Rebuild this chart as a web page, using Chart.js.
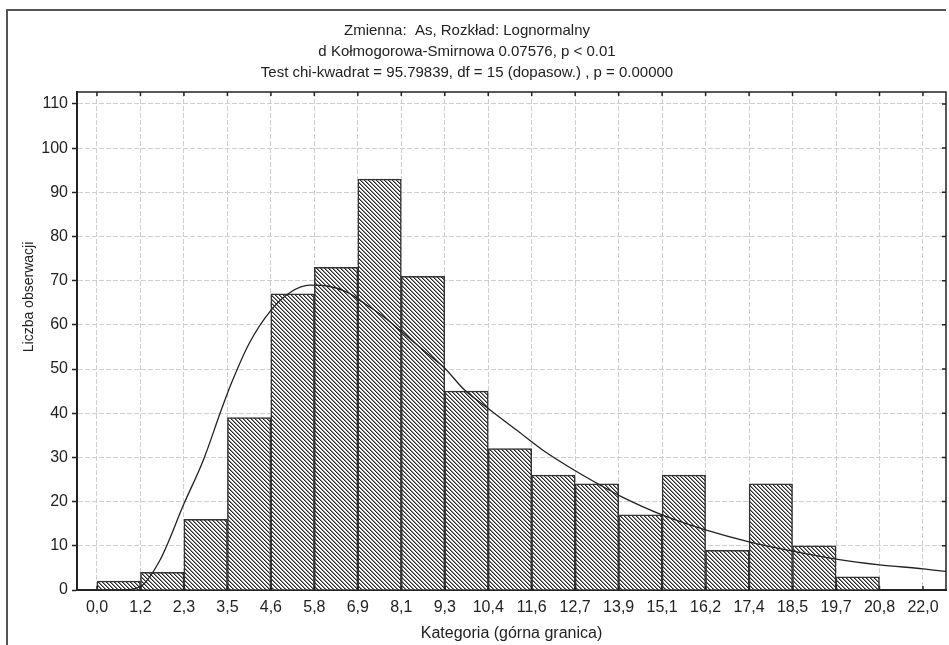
<!DOCTYPE html>
<html>
<head>
<meta charset="utf-8">
<script src="https://cdn.jsdelivr.net/npm/chart.js@4.4.1/dist/chart.umd.min.js"></script>
<style>
  html, body { margin: 0; padding: 0; background: #fff; }
  canvas { display: block; }
</style>
</head>
<body>
<canvas id="histChart" width="949" height="645"></canvas>
<script>
// Bin edges (upper bounds) shown on the x axis
const tickLabels = ['0,0', '1,2', '2,3', '3,5', '4,6', '5,8', '6,9', '8,1', '9,3', '10,4',
                    '11,6', '12,7', '13,9', '15,1', '16,2', '17,4', '18,5', '19,7', '20,8', '22,0'];
// Observed counts per bin (bin i lies between tickLabels[i] and tickLabels[i+1])
const counts = [2, 4, 16, 39, 67, 73, 93, 71, 45, 32, 26, 24, 17, 26, 9, 24, 10, 3, 0];
// Fitted lognormal curve (x in bin-edge units)
const curveX = [0, 0.6, 1.0, 1.45, 2.0, 2.45, 2.85, 3.1, 3.5, 4.0, 4.45, 4.9, 5.3, 5.75, 6.1, 6.6,
                7.05, 7.5, 8.0, 8.45, 9.05, 9.65, 10.25, 11.05, 11.6, 12.05, 13.0, 14.0, 15.0,
                16.0, 17.0, 18.0, 19.0, 19.53];
const curveY = [0, 0.05, 0.8, 6.8, 19.5, 29.5, 40.5, 47, 55.8, 63.3, 67.4, 69.0, 68.8, 67.4, 65.2, 61.8,
                58.1, 54.3, 50.2, 45.3, 40.7, 36.2, 31.7, 26.7, 23.6, 21.2, 17.0, 13.6, 10.9,
                8.8, 7.0, 5.7, 4.8, 4.2];
const yTicks = [0, 10, 20, 30, 40, 50, 60, 70, 80, 90, 100, 110];

const titleLines = [
    'Zmienna:  As, Rozkład: Lognormalny',
    'd Kołmogorowa-Smirnowa 0.07576, p < 0.01',
    'Test chi-kwadrat = 95.79839, df = 15 (dopasow.) , p = 0.00000'
];
const yTitle = 'Liczba obserwacji';
const xTitle = 'Kategoria (górna granica)';

const FONT = '"Liberation Sans", Arial, sans-serif';
Chart.defaults.font.family = FONT;
Chart.defaults.color = '#222';

// diagonal hatch fill for the bars
function makeHatch() {
    const c = document.createElement('canvas');
    c.width = 4; c.height = 4;
    const g = c.getContext('2d');
    g.fillStyle = '#fff';
    g.fillRect(0, 0, 4, 4);
    for (let i = 0; i < 4; i++) {
        g.fillStyle = '#2b2b2b';
        g.fillRect(i, i, 1, 1);
        g.fillStyle = '#8a8a8a';
        g.fillRect((i + 1) % 4, i, 1, 1);
    }
    return g.createPattern(c, 'repeat');
}

// frame, plot box, inner ticks and the free-standing titles
const framePlugin = {
    id: 'frame',
    afterDraw(chart) {
        const { ctx, chartArea: a, scales: { x, y } } = chart;
        ctx.save();
        ctx.strokeStyle = '#555';
        ctx.lineWidth = 2;
        ctx.beginPath();
        ctx.moveTo(7, 645); ctx.lineTo(7, 10); ctx.lineTo(946, 10);
        ctx.stroke();

        ctx.strokeStyle = '#222';
        ctx.lineWidth = 1.5;
        ctx.beginPath();
        ctx.moveTo(a.left, a.top); ctx.lineTo(a.right, a.top); ctx.lineTo(a.right, a.bottom);
        ctx.stroke();

        ctx.beginPath();
        tickLabels.forEach((t, i) => {
            const px = x.getPixelForValue(i);
            ctx.moveTo(px, a.top); ctx.lineTo(px, a.top + 4);
            ctx.moveTo(px, a.bottom); ctx.lineTo(px, a.bottom - 4);
        });
        yTicks.forEach(v => {
            const py = y.getPixelForValue(v);
            ctx.moveTo(a.right, py); ctx.lineTo(a.right - 4, py);
        });
        ctx.stroke();

        ctx.fillStyle = '#222';
        ctx.textAlign = 'center';
        ctx.textBaseline = 'middle';
        ctx.font = '15px ' + FONT;
        titleLines.forEach((s, i) => ctx.fillText(s, 467, 31 + i * 21));

        ctx.translate(29, 297);
        ctx.rotate(-Math.PI / 2);
        ctx.font = '14px ' + FONT;
        ctx.fillText(yTitle, 0, 0);
        ctx.restore();
    }
};

const ctx = document.getElementById('histChart').getContext('2d');

new Chart(ctx, {
    type: 'bar',
    data: {
        datasets: [
            {
                type: 'line',
                data: curveX.map((v, i) => ({ x: v, y: curveY[i] })),
                borderColor: '#222',
                borderWidth: 1.3,
                pointRadius: 0,
                tension: 0.4,
                cubicInterpolationMode: 'monotone',
                order: 0
            },
            {
                data: counts.map((c, i) => ({ x: i + 0.5, y: c })),
                backgroundColor: makeHatch(),
                borderColor: '#333',
                borderWidth: 1.5,
                barPercentage: 1,
                categoryPercentage: 1,
                order: 1
            }
        ]
    },
    options: {
        responsive: false,
        animation: false,
        layout: { padding: { top: 92, left: 0, right: 3, bottom: 0 } },
        plugins: {
            legend: { display: false },
            tooltip: { enabled: false },
            title: { display: false }
        },
        scales: {
            x: {
                type: 'linear',
                offset: false,
                min: -0.46,
                max: 19.53,
                afterBuildTicks: s => { s.ticks = tickLabels.map((t, i) => ({ value: i })); },
                afterFit: s => { s.height = 55; },
                ticks: {
                    autoSkip: false,
                    maxRotation: 0,
                    padding: 8,
                    font: { size: 16 },
                    callback: (v, i) => tickLabels[i]
                },
                grid: { color: '#cfcfcf', drawTicks: false, offset: false },
                border: { display: true, color: '#222', width: 2, dash: [5, 2] },
                title: { display: true, text: xTitle, font: { size: 16 }, padding: { top: 4, bottom: 2 } }
            },
            y: {
                min: 0,
                max: 112.7,
                afterBuildTicks: s => { s.ticks = yTicks.map(v => ({ value: v })); },
                afterFit: s => { s.width = 77; },
                ticks: { padding: 4, font: { size: 16 } },
                grid: { color: '#cfcfcf', tickLength: 5, tickColor: '#222', tickWidth: 1.5 },
                border: { display: true, color: '#222', width: 2, dash: [5, 2] }
            }
        }
    },
    plugins: [framePlugin]
});
</script>
</body>
</html>
